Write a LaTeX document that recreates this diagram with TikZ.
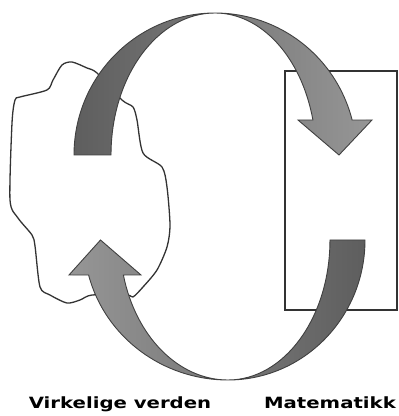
\documentclass[tikz,border=0pt]{standalone}
\usepackage{fontspec}
\setmainfont{DejaVu Sans}
\definecolor{darkg}{HTML}{5E5E5E}
\definecolor{lightg}{HTML}{969696}
\begin{document}
\begin{tikzpicture}[x=1pt,y=1pt,
  outline/.style={draw=black!80, line width=1.3pt},
  arrowshape/.style={draw=black!75, line width=0.9pt, line join=miter},
  lbl/.style={font=\bfseries\fontsize{15.5}{18}\selectfont, inner sep=0pt, anchor=base, xscale=1.27}]
\useasboundingbox (0,0) rectangle (399,416);
% cloud (real world)
\draw[outline, fill=white] plot[smooth cycle, tension=0.45] coordinates {
 (20,319) (47,326) (53,336) (62,351) (72,354) (87,348) (97,343) (122,316)
 (133,309) (137,296) (143,263) (162,249) (167,229) (170,191) (167,169)
 (157,146) (143,129) (133,119) (127,121) (92,121) (80,116) (67,113)
 (50,121) (40,129) (35,170) (32,181) (18,198) (10,216) (12,293) (15,316)};
% rectangle (mathematics)
\node[outline, draw, minimum width=112pt, minimum height=239pt, inner sep=0pt] (math) at (341,225.5) {};
% top arrow: real world -> mathematics
\draw[arrowshape, left color=darkg, right color=lightg]
  (74,261) arc[start angle=180, end angle=90, x radius=141pt, y radius=142pt]
  arc[start angle=90, end angle=14.27, x radius=141.5pt, y radius=142pt]
  -- (372,296) -- (339,261) -- (298,296) -- (312.9,296)
  arc[start angle=14.27, end angle=90, x radius=101pt, y radius=142pt]
  arc[start angle=90, end angle=180, x radius=104pt, y radius=142pt]
  -- cycle;
% bottom arrow: mathematics -> real world
\draw[arrowshape, left color=lightg, right color=darkg]
  (365,176) arc[start angle=0, end angle=-90, x radius=137pt, y radius=140pt]
  arc[start angle=270, end angle=194.48, x radius=144pt, y radius=140pt]
  -- (69,141) -- (100.5,176) -- (141,141) -- (123.4,141)
  arc[start angle=194.48, end angle=270, x radius=108pt, y radius=140pt]
  arc[start angle=270, end angle=360, x radius=102pt, y radius=140pt]
  -- cycle;
% labels
\node[lbl] (realworld) at (120,8) {Virkelige verden};
\node[lbl] (mathlabel) at (330,8) {Matematikk};
\end{tikzpicture}
\end{document}
